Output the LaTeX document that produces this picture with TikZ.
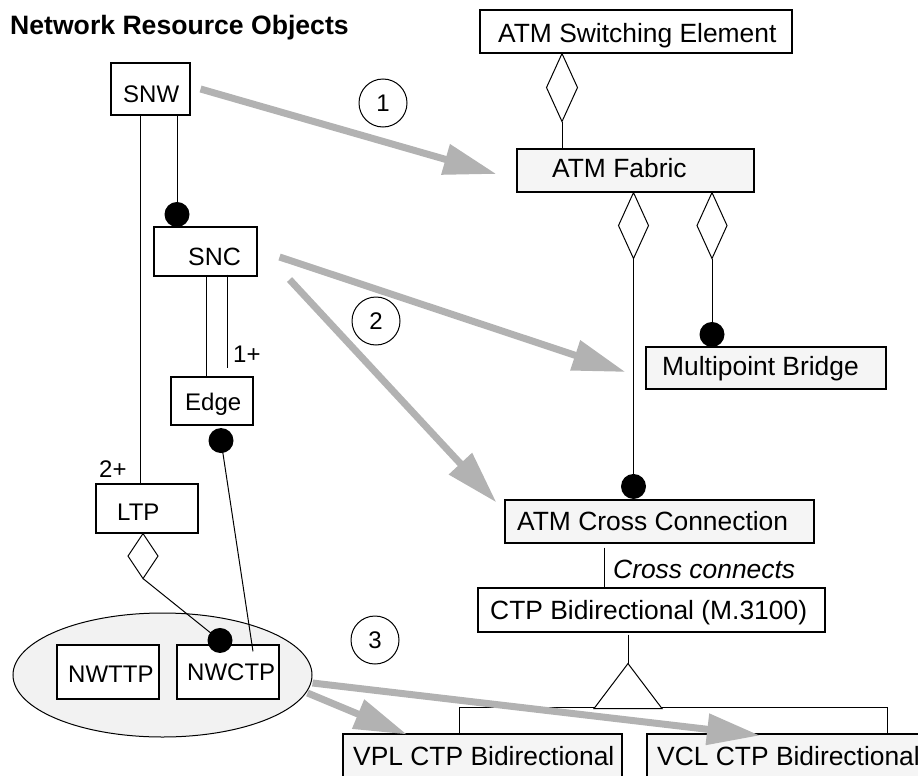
\documentclass[tikz,border=0pt]{standalone}
\usepackage{fontspec}
\setmainfont{Liberation Sans}
\usetikzlibrary{arrows.meta,shapes.geometric,calc}
\begin{document}
\begin{tikzpicture}[x=1pt,y=-1pt,
  box/.style={draw=black, line width=1.1pt, rectangle, inner sep=0pt},
  wbox/.style={box, fill=white},
  gbox/.style={box, fill=black!4},
  lbl/.style={inner sep=0pt, anchor=base west, font=\fontsize{24}{28}\selectfont},
  rlbl/.style={inner sep=0pt, anchor=base west, font=\fontsize{26.4}{30}\selectfont},
  conn/.style={line width=1pt},
  agg/.style={line width=1pt, fill=white},
  garrow/.style={draw=black!30, line width=7pt, -{Triangle[length=53pt,width=30pt]}},
  num/.style={circle, draw, line width=1pt, minimum size=48pt, inner sep=0pt, font=\fontsize{24}{28}\selectfont}
]
\useasboundingbox (0,0) rectangle (918,776);
\clip (0,0) rectangle (918,776);

% title
\node[inner sep=0pt, anchor=base west, font=\bfseries\fontsize{26.6}{30}\selectfont] (title) at (10,35) {Network Resource Objects};

% group ellipse
\node[ellipse, draw, line width=1pt, fill=black!5, minimum width=299pt, minimum height=124pt, inner sep=0pt] (grp) at (162.5,675) {};

% left boxes
\node[wbox, minimum width=79pt, minimum height=52pt] (snw) at (150.5,89) {};
\node[wbox, minimum width=103pt, minimum height=49pt] (snc) at (205.5,251.5) {};
\node[wbox, minimum width=82pt, minimum height=48pt] (edge) at (212,401) {};
\node[wbox, minimum width=102pt, minimum height=49pt] (ltp) at (147,508.5) {};
\node[wbox, minimum width=102pt, minimum height=54pt] (nwttp) at (108,672) {};
\node[wbox, minimum width=102pt, minimum height=54pt] (nwctp) at (228,672) {};

% right boxes
\node[wbox, minimum width=312pt, minimum height=43pt] (ase) at (636,31.5) {};
\node[gbox, minimum width=237pt, minimum height=43pt] (fab) at (635.5,170.5) {};
\node[gbox, minimum width=240pt, minimum height=42pt] (mpb) at (766,368) {};
\node[gbox, minimum width=309pt, minimum height=43pt] (acc) at (659.5,521.5) {};
\node[wbox, minimum width=347pt, minimum height=44pt] (ctp) at (651.5,610) {};
\node[gbox, minimum width=279pt, minimum height=44pt] (vpl) at (482.5,756) {};
\node[gbox, minimum width=283pt, minimum height=44pt] (vcl) at (788.5,756) {};

% texts
\node[lbl] (tsnw) at (123,102) {SNW};
\node[lbl, font=\fontsize{25}{29}\selectfont] (tsnc) at (188,265) {SNC};
\node[lbl] (tedge) at (185,410) {Edge};
\node[lbl] (tltp) at (117,520) {LTP};
\node[lbl] (tnwttp) at (68,682) {NWTTP};
\node[lbl] (tnwctp) at (187,680) {NWCTP};
\node[rlbl] (tase) at (498,43) {ATM Switching Element};
\node[rlbl] (tfab) at (552,177) {ATM Fabric};
\node[rlbl] (tmpb) at (662,375) {Multipoint Bridge};
\node[rlbl] (tacc) at (517,530) {ATM Cross Connection};
\node[rlbl] (tctp) at (490,619) {CTP Bidirectional (M.3100)};
\node[rlbl] (tvpl) at (353,765) {VPL CTP Bidirectional};
\node[rlbl] (tvcl) at (657,765) {VCL CTP Bidirectional};

% SNW - LTP (2+)
\draw[conn] ([xshift=-10.5pt]snw.south) -- ([xshift=-7pt]ltp.north);
\node[lbl] (twoplus) at (99,477) {2+};

% SNW - SNC
\draw[conn] ([xshift=26.5pt]snw.south) -- ([xshift=-28.5pt,yshift=12pt]snc.north) coordinate (d1);
\fill (d1) circle (12.5);

% SNC - Edge
\draw[conn] ([xshift=0.5pt]snc.south) -- ([xshift=-6pt]edge.north);
\draw[conn] ([xshift=21.5pt,yshift=2pt]snc.south) -- ([xshift=15pt,yshift=8pt]edge.north) coordinate (m1);
\node[lbl] (oneplus) at ([xshift=6pt,yshift=6pt]m1) {1+};

% Edge - NWCTP
\coordinate (d2) at ([xshift=9pt,yshift=-15pt]edge.south);
\draw[conn] (d2) -- ([xshift=25pt,yshift=-7pt]nwctp.north);
\fill (d2) circle (12.5);

% LTP - NWCTP aggregation
\coordinate (d3) at ([xshift=-8pt,yshift=4pt]nwctp.north);
\draw[conn] ([xshift=-4pt]ltp.south) ++(0,45) coordinate (lb) -- (d3);
\draw[agg] ([xshift=-4pt]ltp.south) -- ++(15,22.5) -- ++(-15,22.5) -- ++(-15,-22.5) -- cycle;
\fill (d3) circle (12.5);

% ASE - Fabric
\draw[conn] ([xshift=-74pt]ase.south) ++(0,68) -- ([xshift=-73.5pt]fab.north);
\draw[agg] ([xshift=-74pt]ase.south) -- ++(15.5,34) -- ++(-15.5,34) -- ++(-15.5,-34) -- cycle;

% Fabric - ACC
\coordinate (d4) at ([xshift=-26pt,yshift=13pt]acc.north);
\draw[conn] ([xshift=-2pt]fab.south) ++(0,66) -- (d4);
\draw[agg] ([xshift=-2pt]fab.south) -- ++(15,33) -- ++(-15,33) -- ++(-15,-33) -- cycle;
\fill (d4) circle (12.5);

% Fabric - MPB
\coordinate (d5) at ([xshift=-54pt,yshift=12pt]mpb.north);
\draw[conn] ([xshift=76.5pt]fab.south) ++(0,66) -- (d5);
\draw[agg] ([xshift=76.5pt]fab.south) -- ++(15,33) -- ++(-15,33) -- ++(-15,-33) -- cycle;
\fill (d5) circle (12.5);

% ACC - CTP
\draw[conn] ([xshift=-55.5pt,yshift=-4pt]acc.south) -- ([xshift=-47.5pt]ctp.north);
\node[rlbl, font=\itshape\fontsize{26.4}{30}\selectfont] (tcc) at (613,578) {Cross connects};

% inheritance
\draw[conn] ([xshift=-23.5pt,yshift=-2pt]ctp.south) -- ++(0,29) coordinate (apex);
\draw[conn] ([xshift=-23.5pt]vpl.north) -- ++(0,-26) -| ([xshift=98.5pt]vcl.north);
\draw[agg] (apex) -- ++(34,45) -- ++(-68,0) -- cycle;

% numbered circles
\node[num] (c1) at (383,103) {1};
\node[num] (c2) at (376,321) {2};
\node[num] (c3) at (375,640) {3};

% gray arrows
\draw[garrow] ([xshift=10pt]snw.east) -- ([xshift=-20pt,yshift=-3.5pt]fab.west);
\draw[garrow] ([xshift=22pt,yshift=-5.5pt]snc.east) -- ([xshift=-20pt,yshift=-4pt]mpb.west);
\draw[garrow] ([xshift=32pt,yshift=-3pt]snc.south east) -- ([xshift=-8pt,yshift=-3pt]acc.north west);
\draw[garrow] ([yshift=-8pt]grp.east) -- ([xshift=-28.5pt,yshift=-2pt]vcl.north);
\draw[garrow] ([xshift=-5pt,yshift=-18pt]grp.east) -- ([xshift=-75.5pt,yshift=-1pt]vpl.north);
\end{tikzpicture}
\end{document}
